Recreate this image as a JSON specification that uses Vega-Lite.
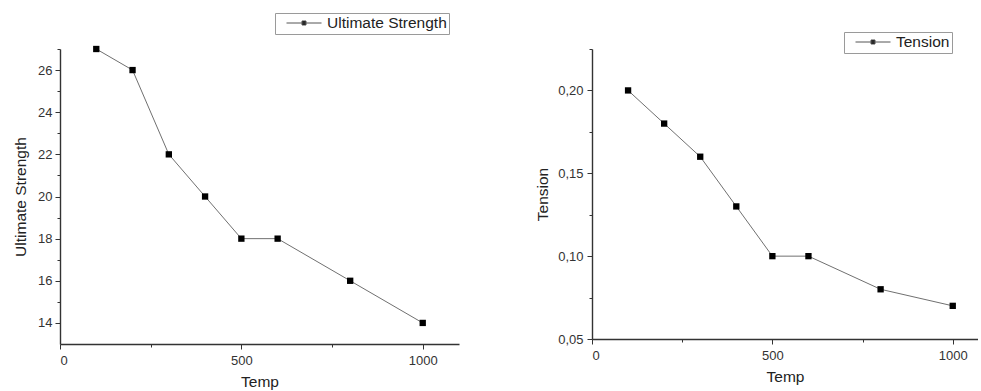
{
  "$schema": "https://vega.github.io/schema/vega-lite/v6.json",
  "background": "white",
  "padding": {"left": 13, "top": 12, "right": 0, "bottom": 0},
  "spacing": 76,
  "datasets": {
    "strength": [
      {"temp": 100, "value": 27, "series": "Ultimate Strength"},
      {"temp": 200, "value": 26, "series": "Ultimate Strength"},
      {"temp": 300, "value": 22, "series": "Ultimate Strength"},
      {"temp": 400, "value": 20, "series": "Ultimate Strength"},
      {"temp": 500, "value": 18, "series": "Ultimate Strength"},
      {"temp": 600, "value": 18, "series": "Ultimate Strength"},
      {"temp": 800, "value": 16, "series": "Ultimate Strength"},
      {"temp": 1000, "value": 14, "series": "Ultimate Strength"}
    ],
    "tension": [
      {"temp": 100, "value": 0.20, "series": "Tension"},
      {"temp": 200, "value": 0.18, "series": "Tension"},
      {"temp": 300, "value": 0.16, "series": "Tension"},
      {"temp": 400, "value": 0.13, "series": "Tension"},
      {"temp": 500, "value": 0.10, "series": "Tension"},
      {"temp": 600, "value": 0.10, "series": "Tension"},
      {"temp": 800, "value": 0.08, "series": "Tension"},
      {"temp": 1000, "value": 0.07, "series": "Tension"}
    ]
  },
  "resolve": {"scale": {"color": "independent"}, "legend": {"color": "independent"}},
  "hconcat": [
    {
      "width": 399,
      "height": 295,
      "data": {"name": "strength"},
      "layer": [
        {
          "mark": {"type": "line", "color": "#707070", "strokeWidth": 1},
          "encoding": {
            "x": {"field": "temp", "type": "quantitative",
                  "scale": {"domain": [0, 1100], "nice": false, "zero": false},
                  "axis": {"orient": "bottom", "values": [250, 750], "labels": false, "domain": false, "tickSize": 3, "title": null}},
            "y": {"field": "value", "type": "quantitative",
                  "scale": {"domain": [13, 27], "nice": false, "zero": false},
                  "axis": {"orient": "left", "values": [15, 17, 19, 21, 23, 25, 27], "labels": false, "domain": false, "tickSize": 3, "title": null}}
          }
        },
        {
          "mark": {"type": "point", "shape": "square", "filled": true, "size": 40, "opacity": 1},
          "encoding": {
            "x": {"field": "temp", "type": "quantitative",
                  "axis": {"orient": "bottom", "values": [0, 500, 1000], "format": "d", "title": "Temp", "tickSize": 5, "labelPadding": 5, "titlePadding": 7}},
            "y": {"field": "value", "type": "quantitative",
                  "axis": {"orient": "left", "values": [14, 16, 18, 20, 22, 24, 26], "title": "Ultimate Strength", "tickSize": 5, "labelPadding": 3, "titlePadding": 9}},
            "color": {"field": "series", "type": "nominal", "scale": {"range": ["#000000"]},
                      "legend": {"orient": "none", "legendX": 215, "legendY": -36, "title": null,
                                 "labelExpr": "datum.label + '   '"}}
          }
        }
      ],
      "resolve": {"axis": {"x": "independent", "y": "independent"}}
    },
    {
      "width": 386,
      "height": 290,
      "data": {"name": "tension"},
      "layer": [
        {
          "mark": {"type": "line", "color": "#707070", "strokeWidth": 1},
          "encoding": {
            "x": {"field": "temp", "type": "quantitative",
                  "scale": {"domain": [0, 1070], "nice": false, "zero": false},
                  "axis": {"orient": "bottom", "values": [250, 750], "labels": false, "domain": false, "tickSize": 3, "title": null}},
            "y": {"field": "value", "type": "quantitative",
                  "scale": {"domain": [0.05, 0.225], "nice": false, "zero": false},
                  "axis": {"orient": "left", "values": [0.075, 0.125, 0.175, 0.225], "labels": false, "domain": false, "tickSize": 3, "title": null}}
          }
        },
        {
          "mark": {"type": "point", "shape": "square", "filled": true, "size": 40, "opacity": 1},
          "encoding": {
            "x": {"field": "temp", "type": "quantitative",
                  "axis": {"orient": "bottom", "values": [0, 500, 1000], "format": "d", "title": "Temp", "tickSize": 5, "labelPadding": 5, "titlePadding": 7}},
            "y": {"field": "value", "type": "quantitative",
                  "axis": {"orient": "left", "values": [0.05, 0.1, 0.15, 0.2], "title": "Tension", "tickSize": 5, "labelPadding": 4, "titlePadding": 7,
                           "labelExpr": "replace(format(datum.value, '.2f'), '.', ',')"}},
            "color": {"field": "series", "type": "nominal", "scale": {"range": ["#000000"]},
                      "legend": {"orient": "none", "legendX": 252, "legendY": -17, "title": null,
                                 "labelExpr": "datum.label + '  '"}}
          }
        }
      ],
      "resolve": {"axis": {"x": "independent", "y": "independent"}}
    }
  ],
  "config": {
    "font": "Liberation Sans",
    "view": {"stroke": null},
    "axis": {
      "grid": false,
      "domainColor": "#333333",
      "domainWidth": 1.4,
      "tickColor": "#333333",
      "tickWidth": 1,
      "labelColor": "#333333",
      "labelFont": "Liberation Sans",
      "labelFontSize": 13,
      "titleColor": "#222222",
      "titleFont": "Liberation Sans",
      "titleFontSize": 15.5,
      "titleFontWeight": "normal"
    },
    "legend": {
      "padding": 2,
      "strokeColor": "#9a9a9a",
      "fillColor": "#ffffff",
      "symbolSize": 225,
      "symbolType": "M0.2,0H4.87M2.267,-0.267H2.8V0.267H2.267Z",
      "symbolFillColor": "#000000",
      "symbolStrokeColor": "#555555",
      "symbolStrokeWidth": 1,
      "labelOffset": 34,
      "labelFont": "Liberation Sans",
      "labelFontSize": 15.5,
      "labelColor": "#222222"
    }
  }
}
